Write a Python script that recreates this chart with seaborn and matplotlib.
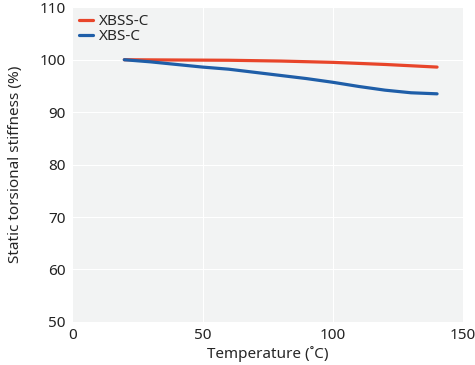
import pandas as pd
import seaborn as sb
import matplotlib
matplotlib.use("Agg")
import matplotlib.pyplot as plt

# values
temp_xbss = [20, 40, 60, 80, 100, 120, 140]
stiff_xbss = [100.0, 99.95, 99.9, 99.75, 99.5, 99.1, 98.6]

temp_xbs = [20, 30, 40, 50, 60, 70, 80, 90, 100, 110, 120, 130, 140]
stiff_xbs = [100.0, 99.6, 99.1, 98.6, 98.2, 97.6, 97.0, 96.4, 95.7, 94.9, 94.2, 93.7, 93.5]

series_names = ["XBSS-C", "XBS-C"]
series_colors = ["#e8452a", "#1f5ea8"]

data = pd.concat([
    pd.DataFrame({"Temperature": temp_xbss, "Stiffness": stiff_xbss, "Series": series_names[0]}),
    pd.DataFrame({"Temperature": temp_xbs, "Stiffness": stiff_xbs, "Series": series_names[1]}),
])

sb.set_style("darkgrid", {"axes.facecolor": "#f2f3f3", "grid.color": "white"})
plt.rcParams["font.family"] = ["Noto Sans", "DejaVu Sans"]

fig, ax = plt.subplots(figsize=(4.75, 3.65), dpi=100)
sb.lineplot(data=data, x="Temperature", y="Stiffness", hue="Series",
            palette=dict(zip(series_names, series_colors)), linewidth=2.3, ax=ax)

ax.set_xlim(0, 150)
ax.set_ylim(50, 110)
ax.set_xticks([0, 50, 100, 150])
ax.set_yticks([50, 60, 70, 80, 90, 100, 110])
ax.tick_params(labelsize=11, colors="#222222", pad=1)
ax.set_xlabel("Temperature (˚C)", fontsize=11, labelpad=2)
ax.set_ylabel("Static torsional stiffness (%)", fontsize=11, labelpad=12)
for s in ax.spines.values():
    s.set_visible(False)

leg = ax.legend(loc="upper left", frameon=False, fontsize=11, handlelength=0.9,
                handletextpad=0.4, borderaxespad=0.05, labelspacing=0.02)
for line in leg.get_lines():
    line.set_linewidth(2.3)

plt.subplots_adjust(left=0.152, right=0.975, top=0.98, bottom=0.118)
plt.savefig("out.png", dpi=100)
